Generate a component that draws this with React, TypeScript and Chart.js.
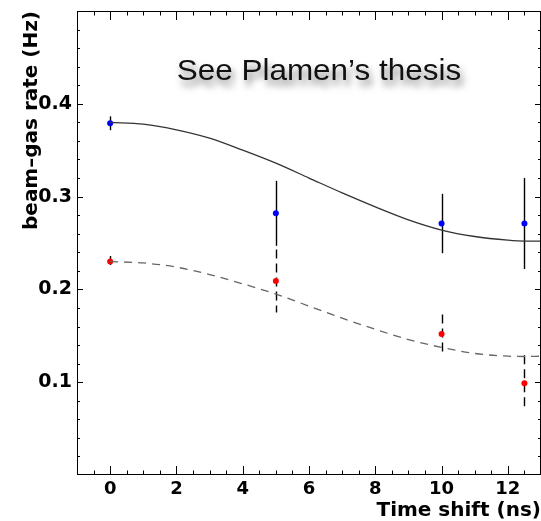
import React, { useEffect, useRef } from "react";
import { Chart, registerables } from "chart.js";

Chart.register(...registerables);

// Measured points
const timeShifts = [0, 5, 10, 12.5];
const blueRates = [0.379, 0.282, 0.271, 0.271];
const blueErrors = [0.0075, 0.035, 0.032, 0.049];
const redRates = [0.23, 0.209, 0.152, 0.099];
const redErrors = [0.006, 0.034, 0.021, 0.03];

// Fit curves
const fitX = [0, 1, 2, 3, 4, 5, 6, 7, 8, 9, 10, 11, 12, 12.5, 13];
const blueFit = [0.38, 0.378, 0.372, 0.363, 0.35, 0.336, 0.32, 0.304, 0.289, 0.275, 0.264, 0.257, 0.253, 0.252, 0.252];
const redFit = [0.23, 0.2285, 0.224, 0.216, 0.206, 0.195, 0.182, 0.169, 0.157, 0.146, 0.1375, 0.131, 0.128, 0.1277, 0.128];

// Axis labels
const xTickValues = [0, 2, 4, 6, 8, 10, 12];
const yTickValues = [0.1, 0.2, 0.3, 0.4];
const xTitle = "Time shift (ns)";
const yTitle = "beam–gas rate (Hz)";
const note = "See Plamen’s thesis";
const noteX = 6.3;
const noteY = 0.426;

const BOLD = "DejaVu Sans";

const framePlugin = {
  id: "rootFrame",
  beforeDatasetsDraw(chart: any) {
    const ctx = chart.ctx;
    const xs = chart.scales.x;
    const ys = chart.scales.y;
    ctx.save();
    ctx.strokeStyle = "#000";
    ctx.lineWidth = 1.4;
    const bars = (rates: number[], errs: number[], dash: number[]) => {
      ctx.setLineDash(dash);
      rates.forEach((r, i) => {
        const x = Math.round(xs.getPixelForValue(timeShifts[i])) + 0.5;
        ctx.beginPath();
        ctx.moveTo(x, ys.getPixelForValue(r + errs[i]));
        ctx.lineTo(x, ys.getPixelForValue(r - errs[i]));
        ctx.stroke();
      });
    };
    bars(blueRates, blueErrors, []);
    bars(redRates, redErrors, [9, 5]);
    ctx.restore();
  },
  afterDraw(chart: any) {
    const ctx = chart.ctx;
    const { left, right, top, bottom } = chart.chartArea;
    const xs = chart.scales.x;
    const ys = chart.scales.y;
    ctx.save();
    ctx.strokeStyle = "#000";
    ctx.lineWidth = 1;
    ctx.setLineDash([]);
    ctx.strokeRect(left + 0.5, top + 0.5, right - left - 1, bottom - top - 1);
    ctx.beginPath();
    for (let i = -1; i <= 25; i++) {
      const v = i * 0.5;
      const px = Math.round(xs.getPixelForValue(v)) + 0.5;
      const len = i % 4 === 0 ? 9 : 4.5;
      ctx.moveTo(px, bottom);
      ctx.lineTo(px, bottom - len);
      ctx.moveTo(px, top);
      ctx.lineTo(px, top + len);
    }
    for (let i = 1; i <= 24; i++) {
      const v = i * 0.02;
      const py = Math.round(ys.getPixelForValue(v)) + 0.5;
      const len = i % 5 === 0 ? 6 : 3;
      ctx.moveTo(left, py);
      ctx.lineTo(left + len, py);
      ctx.moveTo(right, py);
      ctx.lineTo(right - len, py);
    }
    ctx.stroke();

    // annotation text with shadow
    ctx.font = '29px "Liberation Sans"';
    ctx.textAlign = "center";
    ctx.textBaseline = "alphabetic";
    ctx.fillStyle = "#111";
    ctx.shadowColor = "rgba(0,0,0,0.5)";
    ctx.shadowBlur = 7;
    ctx.shadowOffsetX = 3;
    ctx.shadowOffsetY = 6;
    ctx.translate(xs.getPixelForValue(noteX), ys.getPixelForValue(noteY));
    ctx.scale(1.085, 1);
    ctx.fillText(note, 0, 0);
    ctx.restore();
  },
};

export default function App() {
  const ref = useRef<HTMLCanvasElement>(null);
  useEffect(() => {
    document.body.style.margin = "0";
    const canvas = ref.current;
    if (!canvas) return;
    const chart = new Chart(canvas, {
      type: "scatter",
      data: {
        datasets: [
          {
            label: "fit blue",
            data: fitX.map((x, i) => ({ x, y: blueFit[i] })),
            showLine: true,
            borderColor: "#333",
            borderWidth: 1.3,
            pointRadius: 0,
            cubicInterpolationMode: "monotone",
          },
          {
            label: "fit red",
            data: fitX.map((x, i) => ({ x, y: redFit[i] })),
            showLine: true,
            borderColor: "#666",
            borderWidth: 1.3,
            borderDash: [8, 6],
            pointRadius: 0,
            cubicInterpolationMode: "monotone",
          },
          {
            label: "blue",
            data: timeShifts.map((x, i) => ({ x, y: blueRates[i] })),
            backgroundColor: "#0000ff",
            borderWidth: 0,
            pointRadius: 3,
          },
          {
            label: "red",
            data: timeShifts.map((x, i) => ({ x, y: redRates[i] })),
            backgroundColor: "#ff0000",
            borderWidth: 0,
            pointRadius: 3,
          },
        ],
      },
      options: {
        responsive: false,
        animation: false,
        devicePixelRatio: 1,
        layout: { autoPadding: false, padding: { top: 11, right: 0, left: 0, bottom: 0 } },
        plugins: { legend: { display: false }, tooltip: { enabled: false } },
        scales: {
          x: {
            type: "linear",
            min: -1,
            max: 13,
            afterBuildTicks: (s: any) => {
              s.ticks = xTickValues.map((value) => ({ value }));
            },
            afterFit: (s: any) => {
              s.height = 46;
              s.paddingLeft = 0;
              s.paddingRight = 0;
            },
            grid: { display: false, drawTicks: false },
            border: { display: false },
            ticks: {
              color: "#000",
              font: { family: BOLD, size: 18, weight: "bold" },
              padding: 4,
              maxRotation: 0,
              autoSkip: false,
            },
            title: {
              display: true,
              text: xTitle,
              align: "end",
              color: "#000",
              font: { family: BOLD, size: 20, weight: "bold", lineHeight: 1 },
              padding: 0,
            },
          },
          y: {
            type: "linear",
            min: 0,
            max: 0.5,
            afterBuildTicks: (s: any) => {
              s.ticks = yTickValues.map((value) => ({ value }));
            },
            afterFit: (s: any) => {
              s.width = 77;
              s.paddingTop = 0;
              s.paddingBottom = 0;
            },
            grid: { display: false, drawTicks: false },
            border: { display: false },
            ticks: {
              color: "#000",
              font: { family: BOLD, size: 19, weight: "bold" },
              padding: 5,
              callback: (v: any) => Number(v).toFixed(1),
            },
            title: {
              display: true,
              text: yTitle,
              align: "end",
              color: "#000",
              font: { family: BOLD, size: 20, weight: "bold", lineHeight: 1.2 },
              padding: { top: 20, bottom: 0 },
            },
          },
        },
      },
      plugins: [framePlugin],
    } as any);
    return () => chart.destroy();
  }, []);
  return <canvas ref={ref} width={541} height={521} style={{ display: "block" }} />;
}
